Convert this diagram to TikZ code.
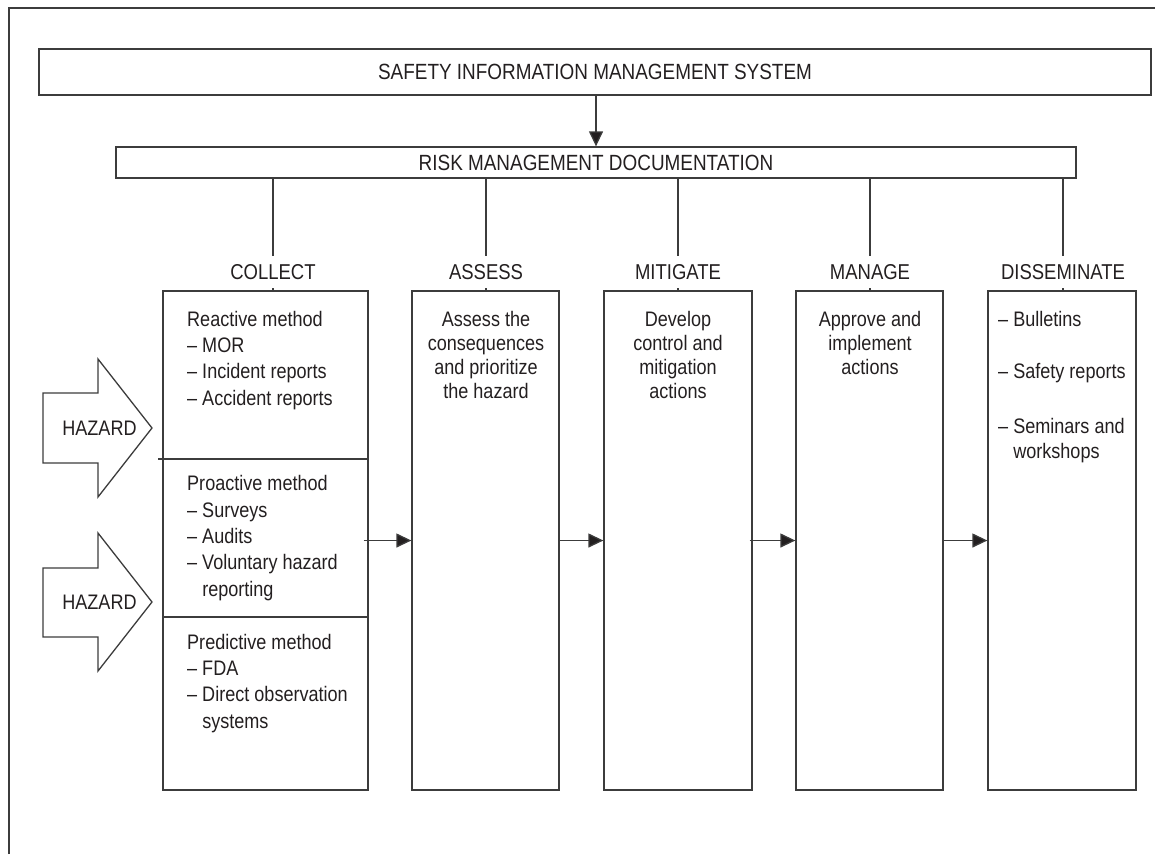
\documentclass[tikz,border=0pt]{standalone}
\usepackage{fontspec}
\setmainfont{Liberation Sans}[FakeStretch=0.86]
\usetikzlibrary{arrows.meta,backgrounds}
\definecolor{linec}{RGB}{60,60,60}
\definecolor{textc}{RGB}{35,31,32}
\begin{document}
\begin{tikzpicture}[x=1pt,y=-1pt,
  every node/.style={text=textc},
  ln/.style={draw=linec,line width=1.3pt},
  bigbox/.style={ln,inner sep=0pt,minimum height=499pt},
  hdr/.style={font=\fontsize{21.5}{24}\selectfont,fill=white,inner xsep=3pt,inner ysep=8pt},
  txt/.style={font=\fontsize{21}{26.3}\selectfont,align=left,inner sep=0pt},
  ctxt/.style={font=\fontsize{21}{24}\selectfont,align=center,inner sep=0pt},
  arr/.style={ln,-{Triangle[length=15pt,width=14pt,fill=textc]}},
  hazard/.style={ln,fill=white,line join=miter}
]
\useasboundingbox (0,0) rectangle (1155,854);
% outer frame
\draw[ln] (9,854) -- (9,8) -- (1155,8);

% top boxes
\node[ln,minimum width=1112pt,minimum height=46pt,inner sep=0pt,font=\fontsize{22}{24}\selectfont] (sims) at (595,72) {SAFETY INFORMATION MANAGEMENT SYSTEM};
\node[ln,minimum width=960pt,minimum height=31pt,inner sep=0pt,font=\fontsize{22}{24}\selectfont] (rmd) at (596,162.5) {RISK MANAGEMENT DOCUMENTATION};
\draw[arr] (sims.south -| 596,0) -- (rmd.north -| 596,0);

% column boxes
\node[bigbox,minimum width=205pt] (collect) at (265.5,540.5) {};
\node[bigbox,minimum width=147pt] (assess) at (485.5,540.5) {};
\node[bigbox,minimum width=148pt] (mitigate) at (678,540.5) {};
\node[bigbox,minimum width=147pt] (manage) at (869.5,540.5) {};
\node[bigbox,minimum width=148pt] (dissem) at (1062,540.5) {};

% dividers in collect box
\draw[ln] ([xshift=-4pt]collect.west |- 0,459) -- (collect.east |- 0,459);
\draw[ln] (collect.west |- 0,617) -- (collect.east |- 0,617);

% column headers
\node[hdr] (hcollect) at (273,272) {COLLECT};
\node[hdr] (hassess) at (486,272) {ASSESS};
\node[hdr] (hmitigate) at (678,272) {MITIGATE};
\node[hdr] (hmanage) at (870,272) {MANAGE};
\node[hdr] (hdissem) at (1063,272) {DISSEMINATE};

\begin{scope}[on background layer]
  \draw[ln] (hcollect |- rmd.south) -- (hcollect |- collect.north);
  \draw[ln] (hassess |- rmd.south) -- (hassess |- assess.north);
  \draw[ln] (hmitigate |- rmd.south) -- (hmitigate |- mitigate.north);
  \draw[ln] (hmanage |- rmd.south) -- (hmanage |- manage.north);
  \draw[ln] (hdissem |- rmd.south) -- (hdissem |- dissem.north);
\end{scope}

% collect texts (base anchor = baseline of last line)
\node[txt,anchor=base west] (reactive) at (187,405) {Reactive method\\– MOR\\– Incident reports\\– Accident reports};
\node[txt,anchor=base west] (proactive) at (187,596) {Proactive method\\– Surveys\\– Audits\\– Voluntary hazard\\\hphantom{–\ }reporting};
\node[txt,anchor=base west] (predictive) at (187,728) {Predictive method\\– FDA\\– Direct observation\\\hphantom{–\ }systems};

% other column texts
\node[ctxt,anchor=base] (tassess) at (486,398) {Assess the\\consequences\\and prioritize\\the hazard};
\node[ctxt,anchor=base] (tmitigate) at (678,398) {Develop\\control and\\mitigation\\actions};
\node[ctxt,anchor=base] (tmanage) at (870,374) {Approve and\\implement\\actions};
\node[txt,anchor=base west] (bull) at (998,326) {– Bulletins};
\node[txt,anchor=base west] (safety) at (998,378) {– Safety reports};
\node[txt,anchor=base west,font=\fontsize{21}{25}\selectfont] (seminars) at (998,458) {– Seminars and\\\hphantom{–\ }workshops};

% flow arrows
\draw[arr] ([xshift=-5pt]collect.east) -- (assess.west);
\draw[arr] ([xshift=-1pt]assess.east) -- (mitigate.west);
\draw[arr] ([xshift=-3pt]mitigate.east) -- (manage.west);
\draw[arr] ([xshift=-1pt]manage.east) -- (dissem.west);

% hazard arrows
\draw[hazard] (43,393) -- (98,393) -- (98,359) -- (152,428) -- (98,497) -- (98,463) -- (43,463) -- cycle;
\node[font=\fontsize{21}{24}\selectfont,inner sep=0pt] (hz1) at (99.5,428) {HAZARD};
\draw[hazard] (43,568) -- (98,568) -- (98,533) -- (152,602) -- (98,671) -- (98,637) -- (43,637) -- cycle;
\node[font=\fontsize{21}{24}\selectfont,inner sep=0pt] (hz2) at (99.5,602) {HAZARD};
\end{tikzpicture}
\end{document}
